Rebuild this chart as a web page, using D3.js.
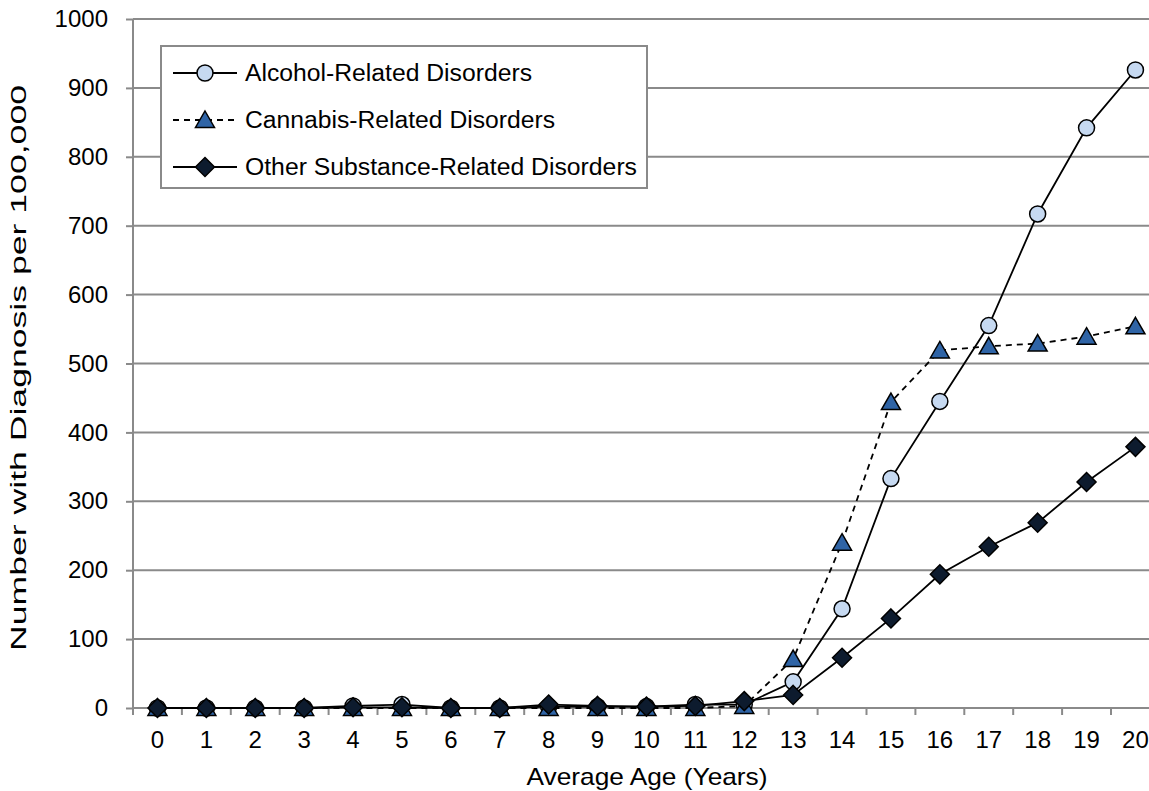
<!DOCTYPE html>
<html lang="en">
<head>
    <meta charset="UTF-8">
    <title>Substance-Related Disorders by Age</title>
    <style>
        body { margin: 0; background: #fff; }
        svg { display: block; }
        text { font-family: "Liberation Sans", Arial, sans-serif; fill: #000; }
    </style>
</head>
<body>
<svg></svg>
<script src="https://d3js.org/d3.v7.min.js"></script>
<script>
    var ages = [0, 1, 2, 3, 4, 5, 6, 7, 8, 9, 10, 11, 12, 13, 14, 15, 16, 17, 18, 19, 20];
    var alcohol = [0, 0, 0, 0, 3, 5, 0, 0, 2, 2, 2, 5, 5, 38, 144, 333, 445, 555, 717, 842, 926];
    var cannabis = [0, 0, 0, 0, 0, 0, 0, 0, 0, 0, 0, 0, 3, 71, 240, 444, 519, 525, 529, 539, 554];
    var other = [0, 0, 0, 0, 1, 1, 0, 0, 5, 3, 2, 3, 10, 19, 73, 130, 194, 234, 269, 328, 379];
    var yTicks = [0, 100, 200, 300, 400, 500, 600, 700, 800, 900, 1000];
    var seriesNames = ["Alcohol-Related Disorders", "Cannabis-Related Disorders", "Other Substance-Related Disorders"];

    var width = 1149;
    var height = 791;
    var plotLeft = 133, plotTop = 19, plotBottom = 708;
    var bandW = 48.9;
    var plotRight = plotLeft + ages.length * bandW;
    var gridColor = "#8a8a8a";

    var xScale = d3.scaleBand().domain(ages).range([plotLeft, plotRight]).paddingInner(0).paddingOuter(0);
    var yScale = d3.scaleLinear().domain([0, 1000]).range([plotBottom, plotTop]);
    function px(d, i) { return xScale(ages[i]) + xScale.bandwidth() / 2; }

    var svg = d3.select("svg")
        .attr("width", width)
        .attr("height", height);

    // 横向网格线
    svg.append("g").selectAll("line")
        .data(yTicks.slice(1))
        .enter().append("line")
        .attr("x1", plotLeft).attr("x2", plotRight)
        .attr("y1", function (d) { return yScale(d); })
        .attr("y2", function (d) { return yScale(d); })
        .attr("stroke", gridColor).attr("stroke-width", 2);

    // y axis
    var yAxis = d3.axisLeft(yScale).tickValues(yTicks).tickSize(7).tickPadding(18)
        .tickFormat(d3.format("d"));
    var gy = svg.append("g")
        .attr("transform", "translate(" + plotLeft + ",0)")
        .call(yAxis);
    gy.select(".domain").attr("stroke", gridColor).attr("stroke-width", 2)
        .attr("d", "M0," + plotTop + "V" + plotBottom);
    gy.selectAll(".tick line").attr("stroke", gridColor).attr("stroke-width", 2);
    gy.selectAll(".tick text").style("font-size", "24px").attr("font-family", null);

    // x axis: ticks between categories
    var gx = svg.append("g");
    gx.append("line")
        .attr("x1", plotLeft).attr("x2", plotRight)
        .attr("y1", plotBottom).attr("y2", plotBottom)
        .attr("stroke", gridColor).attr("stroke-width", 2);
    gx.selectAll("line.tk")
        .data(ages.concat([ages.length]))
        .enter().append("line")
        .attr("class", "tk")
        .attr("x1", function (d, i) { return plotLeft + i * xScale.bandwidth(); })
        .attr("x2", function (d, i) { return plotLeft + i * xScale.bandwidth(); })
        .attr("y1", plotBottom).attr("y2", plotBottom + 7)
        .attr("stroke", gridColor).attr("stroke-width", 2);
    gx.selectAll("text")
        .data(ages)
        .enter().append("text")
        .attr("x", function (d) { return xScale(d) + xScale.bandwidth() / 2; })
        .attr("y", 748)
        .attr("text-anchor", "middle")
        .style("font-size", "24px")
        .text(function (d) { return d; });

    svg.append("text")
        .attr("x", 647)
        .attr("y", 785)
        .attr("text-anchor", "middle")
        .attr("textLength", 241)
        .attr("lengthAdjust", "spacingAndGlyphs")
        .style("font-size", "24px")
        .text("Average Age (Years)");

    svg.append("text")
        .attr("transform", "translate(18,368) rotate(-90)")
        .attr("dy", "0.35em")
        .attr("text-anchor", "middle")
        .attr("textLength", 566)
        .attr("lengthAdjust", "spacingAndGlyphs")
        .style("font-size", "22px")
        .text("Number with Diagnosis per 100,000");

    // markers
    var triPath = "M0,-9L9.5,7.5L-9.5,7.5Z";
    var diaPath = "M0,-9.5L9.5,0L0,9.5L-9.5,0Z";
    var series = [
        {name: seriesNames[0], values: alcohol, dash: null, shape: "circle", fill: "#c6d9f1", len: 287},
        {name: seriesNames[1], values: cannabis, dash: "6,5", shape: triPath, fill: "#2f64a6", len: 310},
        {name: seriesNames[2], values: other, dash: null, shape: diaPath, fill: "#0d1b2e", len: 392}
    ];

    function drawMarker(g, s) {
        if (s.shape === "circle") {
            g.append("circle").attr("r", 8);
        } else {
            g.append("path").attr("d", s.shape);
        }
        g.selectAll("circle, path")
            .attr("fill", s.fill).attr("stroke", "#000").attr("stroke-width", 1.5);
    }

    var line = d3.line()
        .x(function (d, i) { return px(d, i); })
        .y(function (d) { return yScale(d); });

    series.forEach(function (s) {
        svg.append("path")
            .datum(s.values)
            .attr("d", line)
            .attr("fill", "none")
            .attr("stroke", "#000")
            .attr("stroke-width", 1.8)
            .attr("stroke-dasharray", s.dash);
        svg.append("g").selectAll("g")
            .data(s.values)
            .enter().append("g")
            .attr("transform", function (d, i) { return "translate(" + px(d, i) + "," + yScale(d) + ")"; })
            .each(function () { drawMarker(d3.select(this), s); });
    });

    // legend
    var lg = svg.append("g");
    lg.append("rect")
        .attr("x", 161).attr("y", 46)
        .attr("width", 486).attr("height", 142)
        .attr("fill", "#fff").attr("stroke", gridColor).attr("stroke-width", 2);
    series.forEach(function (s, i) {
        var cy = 73 + i * 47;
        lg.append("line")
            .attr("x1", 173).attr("x2", 237)
            .attr("y1", cy).attr("y2", cy)
            .attr("stroke", "#000").attr("stroke-width", 1.8)
            .attr("stroke-dasharray", s.dash);
        var m = lg.append("g").attr("transform", "translate(205," + cy + ")");
        drawMarker(m, s);
        lg.append("text")
            .attr("x", 245).attr("y", cy)
            .attr("dy", "0.36em")
            .attr("textLength", s.len)
            .attr("lengthAdjust", "spacingAndGlyphs")
            .style("font-size", "23px")
            .text(s.name);
    });
</script>
</body>
</html>
